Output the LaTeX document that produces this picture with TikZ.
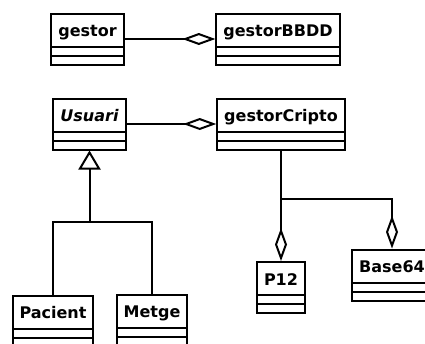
\documentclass[tikz,border=0pt]{standalone}
\usepackage{fontspec}
\setmainfont{DejaVu Sans}[ItalicFont={DejaVu Sans Oblique},BoldFont={DejaVu Sans Bold},BoldItalicFont={DejaVu Sans Bold Oblique}]
\usepackage{tikz}
\usetikzlibrary{arrows.meta}
\tikzstyle{classe} = [rectangle, draw, line width=2pt, anchor=north,
    inner xsep=7pt, inner ysep=0pt, text height=23pt, text depth=28pt,
    font=\bfseries\fontsize{16}{19}\selectfont,
    path picture={
      \draw[line width=2pt] ([yshift=-33pt]path picture bounding box.north west) -- ([yshift=-33pt]path picture bounding box.north east);
      \draw[line width=2pt] ([yshift=-42pt]path picture bounding box.north west) -- ([yshift=-42pt]path picture bounding box.north east);}]
\tikzstyle{linia} = [line width=2pt]
\tikzstyle{agrega} = [linia, -{Diamond[open, length=33pt, width=12pt]}]
\tikzstyle{hereta} = [linia, -{Triangle[open, length=19pt, width=22pt]}]

\begin{document}
\begin{tikzpicture}[x=1pt, y=-1pt]
		\useasboundingbox (0,0) rectangle (425,343);
		% the classes
		\node [classe] (gestor) at (87.5,12.5) {gestor};
		\node [classe] (gestorBBDD) at (278,12.5) {gestorBBDD};
		\node [classe] (usuari) at (89.5,97.5) {\itshape Usuari};
		\node [classe] (gestorCripto) at (281,97.5) {gestorCripto};
		\node [classe] (pacient) at (53,294.5) {Pacient};
		\node [classe] (metge) at (152,293.5) {Metge};
		\node [classe] (p12) at (281,261) {P12};
		\node [classe] (base64) at (392,248.5) {Base64};

		% the relations
		\draw [agrega] (gestor) -- (gestorBBDD);
		\draw [agrega] (usuari) -- (gestorCripto);

		\coordinate (herencia) at (usuari.south |- 0,222);
		\draw [linia] (pacient.north) |- (herencia) -| (metge.north);
		\draw [hereta] (herencia) -- (usuari.south);

		\coordinate (cripto) at (gestorCripto.south |- 0,199);
		\draw [linia] (gestorCripto.south) -- (cripto);
		\draw [agrega] (cripto) -- (p12.north);
		\draw [agrega] (cripto) -| (base64.north);
	\end{tikzpicture}
\end{document}
